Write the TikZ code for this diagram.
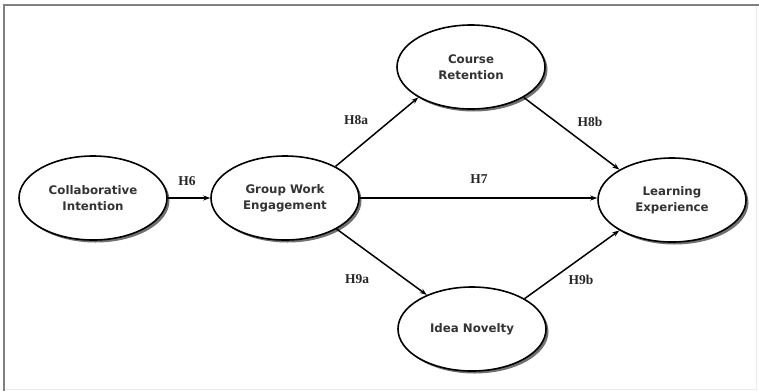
\documentclass[tikz,border=0pt]{standalone}
\usepackage{fontspec}
\setmainfont{Liberation Serif}
\newfontfamily\nodefont{DejaVu Sans}
\usetikzlibrary{shapes.geometric,shadows,arrows.meta}
\begin{document}
\begin{tikzpicture}[x=1pt,y=-1pt,
  construct/.style={ellipse, draw=black, line width=1.6pt, fill=white,
    minimum width=148pt, minimum height=84pt, inner sep=0pt, align=center,
    font=\nodefont\bfseries\fontsize{11.8}{16}\selectfont, text=black!80,
    drop shadow={shadow xshift=2.5pt, shadow yshift=-2.5pt, fill=black!70, opacity=0.8}},
  path/.style={line width=1.5pt, -{Stealth[length=7pt,width=5pt]}},
  hyp/.style={font=\bfseries\fontsize{13.5}{15}\selectfont, text=black!85, inner sep=0pt}]
\useasboundingbox (0,0) rectangle (759,391);
\draw[black!8, line width=1pt] (756,5) -- (756,389) -- (4,389);
\draw[gray, line width=2.5pt] (4,391) -- (4,5) -- (759,5);
\node[construct] (ci) at (93,198) {Collaborative\\Intention};
\node[construct] (gwe) at (285,198) {Group Work\\Engagement};
\node[construct] (cr) at (471,67) {Course\\Retention};
\node[construct] (le) at (672,200) {Learning\\Experience};
\node[construct] (in) at (472,329) {Idea Novelty};
\draw[path] (ci.east) -- (gwe.west);
\draw[path] (gwe.east) -- (gwe.east -| le.west);
\draw[path] (gwe.32) -- (cr.210);
\draw[path] (cr.-30) -- (le.150);
\draw[path] (gwe.-31) -- (in.143);
\draw[path] (in.30) -- (le.210);
\node[hyp] (h6) at (187,181) {H6};
\node[hyp] (h7) at (479,179) {H7};
\node[hyp] (h8a) at (356,120) {H8a};
\node[hyp] (h8b) at (590,122) {H8b};
\node[hyp] (h9a) at (357,279) {H9a};
\node[hyp] (h9b) at (581,280) {H9b};
\end{tikzpicture}
\end{document}
